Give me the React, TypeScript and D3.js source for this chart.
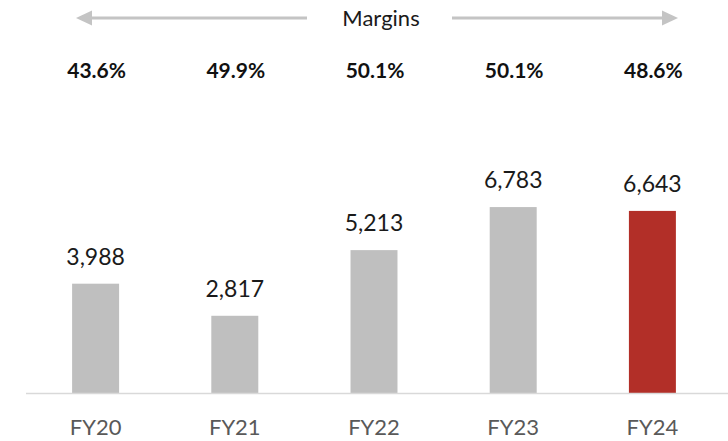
import React from "react";
import * as d3 from "d3";

const categories = ["FY20", "FY21", "FY22", "FY23", "FY24"];
const values = [3988, 2817, 5213, 6783, 6643];
const margins = ["43.6%", "49.9%", "50.1%", "50.1%", "48.6%"];
const highlight = ["FY24"];
const headerLabel = "Margins";

const W = 728;
const H = 441;
const FONT = "Lato, 'Open Sans', sans-serif";

export default function App() {
  const x = d3
    .scaleBand<string>()
    .domain(categories)
    .range([26, 722])
    .paddingInner(0.6625)
    .paddingOuter(0.33125);
  const baseY = 393;
  const y = d3.scaleLinear().domain([0, 7000]).range([baseY, baseY - 0.02741 * 7000]);
  const fmt = d3.format(",");
  const arrowY = 18;

  return (
    <svg
      width={W}
      height={H}
      style={{ position: "absolute", left: 0, top: 0, background: "#ffffff" }}
    >
      <rect x={0} y={0} width={W} height={H} fill="#ffffff" />
      {/* Arrows */}
      <line x1={90} x2={307} y1={arrowY} y2={arrowY} stroke="#c4c4c4" strokeWidth={3} />
      <polygon points={`76,${arrowY} 92,${arrowY - 7.5} 92,${arrowY + 7.5}`} fill="#c4c4c4" />
      <line x1={452} x2={664} y1={arrowY} y2={arrowY} stroke="#c4c4c4" strokeWidth={3} />
      <polygon points={`678,${arrowY} 662,${arrowY - 7.5} 662,${arrowY + 7.5}`} fill="#c4c4c4" />
      <text
        x={381}
        y={26}
        textAnchor="middle"
        fontFamily={FONT}
        fontSize={22}
        fill="#1a1a1a"
      >
        {headerLabel}
      </text>
      {/* Margin labels */}
      {categories.map((c, i) => (
        <text
          key={"m" + c}
          x={x(c)! + x.bandwidth() / 2 + 1}
          y={78}
          textAnchor="middle"
          fontFamily={FONT}
          fontWeight="bold"
          fontSize={21}
          fill="#111"
        >
          {margins[i]}
        </text>
      ))}
      {/* Bars */}
      {categories.map((c, i) => (
        <rect
          key={"b" + c}
          x={x(c)!}
          y={y(values[i])}
          width={x.bandwidth()}
          height={baseY - y(values[i])}
          fill={highlight.includes(c) ? "#b22f28" : "#bfbfbf"}
        />
      ))}
      {/* Value labels */}
      {categories.map((c, i) => (
        <text
          key={"v" + c}
          x={x(c)! + x.bandwidth() / 2}
          y={y(values[i]) - 19}
          textAnchor="middle"
          fontFamily={FONT}
          fontSize={23}
          fill="#1a1a1a"
        >
          {fmt(values[i])}
        </text>
      ))}
      {/* Axis line */}
      <line x1={26} x2={728} y1={baseY + 0.5} y2={baseY + 0.5} stroke="#d9d9d9" strokeWidth={1.5} />
      {/* Category labels */}
      {categories.map((c) => (
        <text
          key={"c" + c}
          x={x(c)! + x.bandwidth() / 2}
          y={435}
          textAnchor="middle"
          fontFamily={FONT}
          fontSize={22}
          fill="#595959"
        >
          {c}
        </text>
      ))}
    </svg>
  );
}
